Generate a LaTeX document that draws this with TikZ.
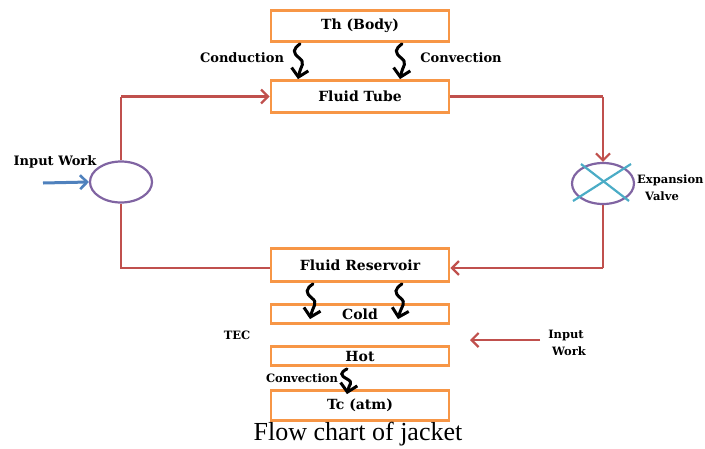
\documentclass[tikz,border=0pt]{standalone}
\usepackage{fontspec}
\setmainfont{DejaVu Serif}
\newfontfamily\capfont{Liberation Serif}
\usetikzlibrary{arrows.meta,calc,shapes.geometric}
\definecolor{boxorange}{RGB}{247,150,70}
\definecolor{loopred}{RGB}{192,80,77}
\definecolor{vpurple}{RGB}{128,100,162}
\definecolor{vteal}{RGB}{75,172,198}
\definecolor{wblue}{RGB}{79,129,189}
\tikzset{
  blk/.style={draw=boxorange,line width=2.8pt,minimum width=178pt,inner sep=0pt,font=\bfseries\fontsize{14}{16}\selectfont},
  pipe/.style={draw=loopred,line width=2.4pt},
  pipearrow/.style={pipe,-{Straight Barb[length=7pt,width=14pt,line width=2.2pt]}},
  heat/.style={draw=black,line width=3pt,line cap=round,-{Straight Barb[length=8pt,width=17pt,line width=3pt]},
    to path={.. controls ($(\tikztostart)!0.15!(\tikztotarget)+(-7,0)$) and ($(\tikztostart)!0.25!(\tikztotarget)+(-7,0)$) .. ($(\tikztostart)!0.4!(\tikztotarget)$) .. controls ($(\tikztostart)!0.55!(\tikztotarget)+(7,0)$) and ($(\tikztostart)!0.6!(\tikztotarget)+(2,0)$) .. (\tikztotarget)}},
  lbl/.style={font=\bfseries\fontsize{13}{15}\selectfont,inner sep=0pt},
  slbl/.style={font=\bfseries\fontsize{11.5}{13}\selectfont,inner sep=0pt},
  circ/.style={draw=vpurple,line width=2.2pt,ellipse,minimum width=62pt,minimum height=41pt}
}
\begin{document}
\begin{tikzpicture}[x=1pt,y=-1pt]
\useasboundingbox (0,0) rectangle (705,448);
\node[blk,minimum height=31pt] (th) at (360,26) {Th (Body)};
\node[blk,minimum height=32pt] (tube) at (360,96.5) {Fluid Tube};
\node[blk,minimum height=33pt] (res) at (360,265) {Fluid Reservoir};
\node[blk,minimum height=19pt] (cold) at (360,314) {Cold};
\node[blk,minimum height=19pt] (hot) at (360,356) {Hot};
\node[blk,minimum height=30pt] (tc) at (360,405.5) {Tc (atm)};
\node[circ] (pump) at (121,182) {};
\node[circ] (valve) at (603,183.5) {};
\draw[vteal,line width=2.2pt] (581,164) -- (629,201);
\draw[vteal,line width=2.2pt] (573,201) -- (631,164);
\coordinate (tl) at (121,96.5);
\coordinate (tr) at (603,96.5);
\coordinate (bl) at (121,268);
\coordinate (br) at (603,268);
\draw[pipe] (pump.north) -- (tl);
\draw[pipearrow] (tl) -- (tube.west);
\draw[pipe] (tube.east) -- (tr);
\draw[pipearrow] (tr) -- (valve.north);
\draw[pipe] (valve.south) -- (br);
\draw[pipearrow] (br) -- (res.east |- br);
\draw[pipe] (res.west |- bl) -- (bl) -- (pump.south);
\coordinate (bw) at (43,183);
\draw[wblue,line width=3pt,-{Straight Barb[length=7pt,width=14pt,line width=2.6pt]}] (bw) -- (pump.west);
\coordinate (iw) at (540,340);
\draw[pipearrow] (iw) -- (470,340);
\draw[heat] ([xshift=-60pt,yshift=-1pt]th.south) to ([xshift=-62pt]tube.north);
\draw[heat] ([xshift=42pt,yshift=-1pt]th.south) to ([xshift=40pt]tube.north);
\draw[heat] ([xshift=-47pt,yshift=-1pt]res.south) to ([xshift=-50pt,yshift=-16pt]cold.north);
\draw[heat] ([xshift=42pt,yshift=-1pt]res.south) to ([xshift=38pt,yshift=-16pt]cold.north);
\draw[heat] ([xshift=-13pt,yshift=-2pt]hot.south) to ([xshift=-13pt,yshift=-5pt]tc.north);
\node[lbl] (l1) at (242,58) {Conduction};
\node[lbl] (l2) at (461,58) {Convection};
\node[lbl] (l3) at (55,162) {Input Work};
\node[slbl,anchor=west] (l4) at (637,180) {Expansion};
\node[slbl] (l5) at (662,196) {Valve};
\node[slbl] (l6) at (237,335) {TEC};
\node[slbl] (l7) at (566,335) {Input};
\node[slbl] (l8) at (569,351) {Work};
\node[slbl] (l9) at (302,378) {Convection};
\node[font=\capfont\fontsize{26}{28}\selectfont,inner sep=0pt] (cap) at (358,434) {Flow chart of jacket};
\end{tikzpicture}
\end{document}
